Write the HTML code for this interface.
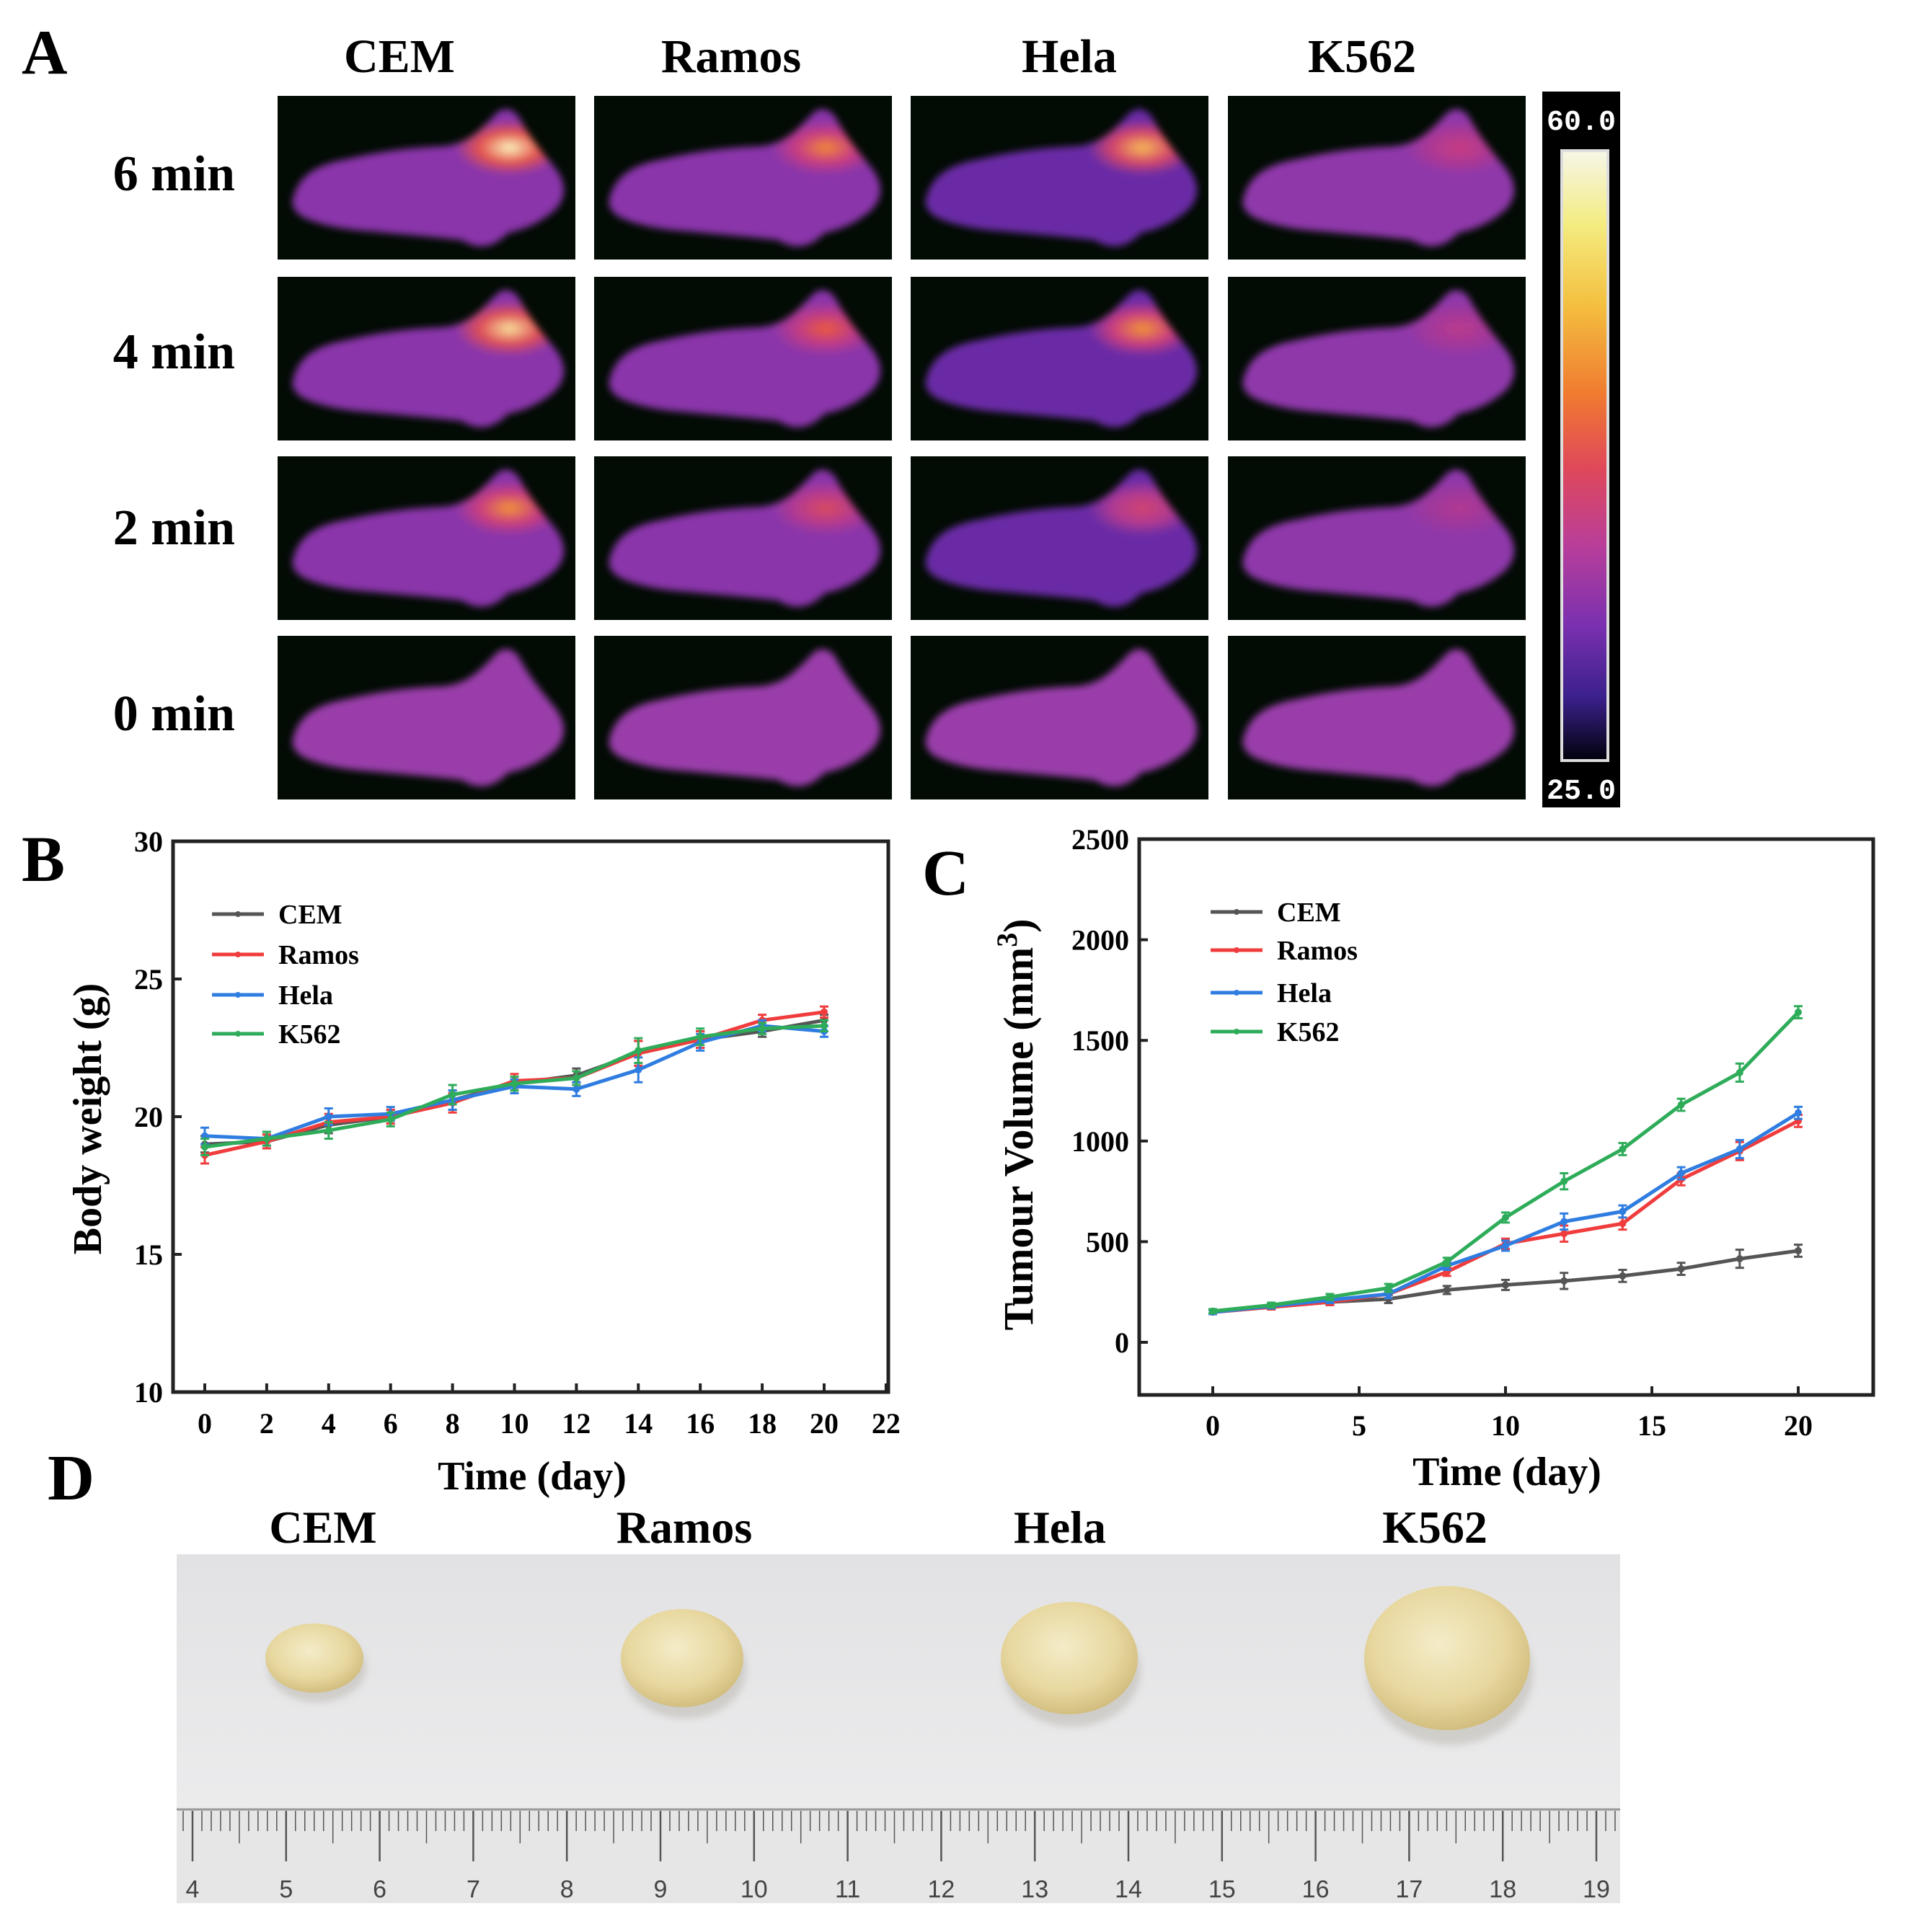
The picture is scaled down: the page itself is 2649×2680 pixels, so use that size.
<!DOCTYPE html>
<html><head><meta charset="utf-8"><style>
html,body{margin:0;padding:0;background:#fff;}
svg{display:block;font-family:"Liberation Serif",serif;font-weight:bold;}
</style></head><body>
<svg id="fig" xmlns="http://www.w3.org/2000/svg" width="2649" height="2680" viewBox="0 0 2649 2680">
<defs>
<linearGradient id="cbar" x1="0" y1="0" x2="0" y2="1">
<stop offset="0" stop-color="#f6f6e6"/><stop offset="0.12" stop-color="#f4ec80"/><stop offset="0.25" stop-color="#f4c040"/><stop offset="0.4" stop-color="#f07a30"/><stop offset="0.52" stop-color="#e0485a"/><stop offset="0.65" stop-color="#b83e9a"/><stop offset="0.78" stop-color="#7a30b0"/><stop offset="0.9" stop-color="#3a208a"/><stop offset="1" stop-color="#02020e"/>
</linearGradient>
<filter id="blur" x="-10%" y="-10%" width="120%" height="120%"><feGaussianBlur stdDeviation="5"/></filter>
<linearGradient id="photo" x1="0" y1="0" x2="0" y2="1"><stop offset="0" stop-color="#e2e2e4"/><stop offset="1" stop-color="#efeff0"/></linearGradient>
<radialGradient id="tum" cx="0.45" cy="0.4" r="0.65"><stop offset="0" stop-color="#f4ecc8"/><stop offset="0.6" stop-color="#e8d8a0"/><stop offset="1" stop-color="#cdb878"/></radialGradient>
</defs>
<g id="panelA">
<text x="30" y="102" font-size="88">A</text>
</g>
<g id="chartB">
<text x="30" y="1222" font-size="90">B</text>
</g>
<g id="chartC">
<text x="1279" y="1241" font-size="90">C</text>
</g>
<g id="panelD">
<text x="66" y="2080" font-size="90">D</text>
</g>
</svg>
<script>
const NS="http://www.w3.org/2000/svg";
function el(tag,attrs,parent,text){const e=document.createElementNS(NS,tag);for(const k in attrs)e.setAttribute(k,attrs[k]);if(text!==undefined)e.textContent=text;parent.appendChild(e);return e;}

/* ---------- Panel A data ---------- */
const cellLines=["CEM","Ramos","Hela","K562"];
const timeRows=["6 min","4 min","2 min","0 min"];
const heat6=[1.0,0.72,0.85,0.4];
const heat4=[0.95,0.6,0.75,0.3];
const heat2=[0.75,0.5,0.45,0.25];
const heat0=[0,0,0,0];
const heatRows=[heat6,heat4,heat2,heat0];
const bodyTone=["#8a36aa","#8a36aa","#6a2ca6","#8f38aa"];

const A=document.getElementById('panelA');
const colX=[385,824,1263,1703], rowY=[133,384,633,882], cw=413, ch=227;
const colCenters=[554,1014,1483,1889], rowCenters=[240,487,731,989];
cellLines.forEach((n,i)=>{const t=el('text',{x:colCenters[i],y:100,'font-size':66,'text-anchor':'middle'},A,n);

});
timeRows.forEach((n,j)=>{const t=el('text',{x:326,y:rowCenters[j]+24,'font-size':70,'text-anchor':'end'},A,n);

});
function heatColor(v){const stops=[[0,[138,54,170]],[0.4,[200,60,130]],[0.6,[236,90,60]],[0.8,[245,170,50]],[1,[252,248,190]]];
for(let i=1;i<stops.length;i++){if(v<=stops[i][0]){const a=stops[i-1],b=stops[i],t=(v-a[0])/(b[0]-a[0]);return 'rgb('+a[1].map((c,k)=>Math.round(c+(b[1][k]-c)*t)).join(',')+')';}}return 'rgb(252,248,190)';}
const mousePath="M22,140 C30,110 55,95 95,88 C130,80 170,72 230,70 C265,66 280,48 300,28 C310,15 325,15 335,30 C345,50 360,70 385,100 C400,120 402,140 385,158 C365,175 345,185 320,190 C300,210 280,215 255,200 C210,195 170,192 130,188 C95,186 60,180 35,168 C22,160 18,150 22,140 Z";
timeRows.forEach((tr,j)=>{cellLines.forEach((cl,i)=>{
 const g=el('g',{transform:'translate('+colX[i]+','+rowY[j]+')'},A);
 
 
 el('rect',{x:0,y:0,width:cw,height:ch,fill:'#020b04'},g);
 const gid='hs'+i+'_'+j, v=heatRows[j][i];
 const rg=el('radialGradient',{id:gid,cx:'0.8',cy:'0.28',r:'0.2'},document.querySelector('defs'));
 el('stop',{offset:'0','stop-color':heatColor(v)},rg);
 el('stop',{offset:'0.55','stop-color':heatColor(v*0.55)},rg);
 el('stop',{offset:'1','stop-color':bodyTone[i]},rg);
 el('path',{d:mousePath,fill:j===3?'#9a3caa':'url(#'+gid+')',filter:'url(#blur)'},g);
});});
const cb=el('g',{},A);


el('rect',{x:2139,y:127,width:108,height:993,fill:'#000'},cb);
el('rect',{x:2164,y:207,width:68,height:850,fill:'#ddd'},cb);
el('rect',{x:2168,y:211,width:60,height:842,fill:'url(#cbar)'},cb);
const t60=el('text',{x:2193,y:180,'font-size':40,fill:'#fff','text-anchor':'middle','font-family':'Liberation Mono, monospace'},cb,'60.0');

const t25=el('text',{x:2193,y:1108,'font-size':40,fill:'#fff','text-anchor':'middle','font-family':'Liberation Mono, monospace'},cb,'25.0');


/* ---------- Chart B data ---------- */
const daysB=[0,2,4,6,8,10,12,14,16,18,20];
const xTicksB=[0,2,4,6,8,10,12,14,16,18,20,22];
const yTicksB=[10,15,20,25,30];
const wCEM=[19.0,19.1,19.7,20.0,20.6,21.2,21.5,22.3,22.8,23.1,23.5];
const wRamos=[18.6,19.1,19.8,20.0,20.5,21.3,21.4,22.3,22.8,23.5,23.8];
const wHela=[19.3,19.2,20.0,20.1,20.6,21.1,21.0,21.7,22.7,23.3,23.1];
const wK562=[18.9,19.2,19.5,19.9,20.8,21.2,21.4,22.4,22.9,23.2,23.3];
const errB=[0.3,0.25,0.3,0.25,0.35,0.25,0.25,0.45,0.3,0.2,0.2];
const seriesNames=["CEM","Ramos","Hela","K562"];
const seriesColors=["#555555","#f03c3c","#2f7de0","#2eac5a"];

/* ---------- Chart C data ---------- */
const daysC=[0,2,4,6,8,10,12,14,16,18,20];
const xTicksC=[0,5,10,15,20];
const yTicksC=[0,500,1000,1500,2000,2500];
const vCEM=[150,175,200,215,260,285,305,330,365,415,455];
const vRamos=[150,175,200,240,350,490,540,590,810,950,1100];
const vHela=[150,180,210,240,380,480,600,650,840,960,1140];
const vK562=[155,185,225,270,400,620,800,960,1180,1340,1640];
const errC=[10,12,15,20,20,25,40,30,30,45,30];

function drawChart(g,cfg){
 const {x0,x1,y0,y1,xs,ys}=cfg;
 const fr=el('rect',{x:x0,y:y0,width:x1-x0,height:y1-y0,fill:'none',stroke:'#222','stroke-width':5},g);
 
 cfg.xTicks.forEach(t=>{const X=xs(t);el('line',{x1:X,y1:y1,x2:X,y2:y1-12,stroke:'#222','stroke-width':4},g);
  const tl=el('text',{x:X,y:cfg.xLabelY,'font-size':40,'text-anchor':'middle'},g,t);
  });
 cfg.yTicks.forEach(t=>{const Y=ys(t);el('line',{x1:x0,y1:Y,x2:x0+12,y2:Y,stroke:'#222','stroke-width':4},g);
  const tl=el('text',{x:x0-14,y:Y+14,'font-size':40,'text-anchor':'end'},g,t);
  });
 cfg.series.forEach((s,k)=>{
  const sg=el('g',{},g);
  
  
  const pts=cfg.xs_d.map((d,i)=>xs(d)+','+ys(s[i])).join(' ');
  el('polyline',{points:pts,fill:'none',stroke:seriesColors[k],'stroke-width':5,'stroke-linejoin':'round'},sg);
  cfg.xs_d.forEach((d,i)=>{const X=xs(d),Yt=ys(s[i]+cfg.err[i]),Yb=ys(s[i]-cfg.err[i]);
   el('line',{x1:X,y1:Yt,x2:X,y2:Yb,stroke:seriesColors[k],'stroke-width':3},sg);
   el('line',{x1:X-6,y1:Yt,x2:X+6,y2:Yt,stroke:seriesColors[k],'stroke-width':3},sg);
   el('line',{x1:X-6,y1:Yb,x2:X+6,y2:Yb,stroke:seriesColors[k],'stroke-width':3},sg);
   const m=el('circle',{cx:X,cy:ys(s[i]),r:5,fill:seriesColors[k]},sg);
   });
 });
 const lg=el('g',{},g);
 
 seriesNames.forEach((n,k)=>{const Y=cfg.legY[k];
  const e=el('g',{},lg);
  
  
  el('line',{x1:cfg.legX,y1:Y,x2:cfg.legX+72,y2:Y,stroke:seriesColors[k],'stroke-width':5},e);
  el('circle',{cx:cfg.legX+36,cy:Y,r:4,fill:seriesColors[k]},e);
  el('text',{x:cfg.legX+92,y:Y+13,'font-size':38},e,n);});
 const xt=el('text',{x:cfg.xTitle[0],y:cfg.xTitle[1],'font-size':56,'text-anchor':'middle'},g,'Time (day)');
 
 const yt=el('text',{x:0,y:0,'font-size':cfg.yTitleSize,'text-anchor':'middle',transform:'translate('+cfg.yTitle[0]+','+cfg.yTitle[1]+') rotate(-90)'},g);
 
 yt.innerHTML=cfg.yTitleHTML;
}
drawChart(document.getElementById('chartB'),{
 x0:240,x1:1232,y0:1167,y1:1931,xs:d=>284+d*42.95,ys:v=>1931-(v-10)*38.2,
 xTicks:xTicksB,yTicks:yTicksB,xLabelY:1988,xs_d:daysB,series:[wCEM,wRamos,wHela,wK562],err:errB,
 legX:294,legY:[1268,1324,1380,1434],xTitle:[738,2066],yTitle:[140,1552],yTitleSize:56,yTitleHTML:'Body weight (g)'});
drawChart(document.getElementById('chartC'),{
 x0:1580,x1:2598,y0:1164,y1:1935,xs:d=>1682+d*40.6,ys:v=>1862-v*0.2792,
 xTicks:xTicksC,yTicks:yTicksC,xLabelY:1991,xs_d:daysC,series:[vCEM,vRamos,vHela,vK562],err:errC,
 legX:1679,legY:[1265,1318,1377,1431],xTitle:[2090,2060],yTitle:[1432,1560],yTitleSize:58,yTitleHTML:'Tumour Volume (mm<tspan dy="-22" font-size="40">3</tspan><tspan dy="22">)</tspan>'});

/* ---------- Panel D ---------- */
const D=document.getElementById('panelD');
const tumX=[436,946,1483,2007], tumRx=[68,85,95,115], tumRy=[48,68,78,100];
const labelX=[448,949,1470,1990];
cellLines.forEach((n,i)=>{const t=el('text',{x:labelX[i],y:2140,'font-size':64,'text-anchor':'middle'},D,n);
 });
const ph=el('rect',{x:245,y:2156,width:2002,height:484,fill:'url(#photo)'},D);

cellLines.forEach((n,i)=>{
 el('ellipse',{cx:tumX[i]+4,cy:2306+tumRy[i]*0.15,rx:tumRx[i],ry:tumRy[i],fill:'#b8b4aa',opacity:0.5,filter:'url(#blur)'},D);
 const e=el('ellipse',{cx:tumX[i],cy:2300,rx:tumRx[i],ry:tumRy[i],fill:'url(#tum)'},D);
 });
const rul=el('g',{},D);

el('rect',{x:245,y:2508,width:2002,height:132,fill:'#e6e6e6'},rul);
el('line',{x1:245,y1:2510,x2:2247,y2:2510,stroke:'#999','stroke-width':3},rul);
for(let mm=-8;mm<=158;mm++){const X=267+mm*12.98;if(X<247||X>2245)continue;
 const L=mm%10===0?70:(mm%5===0?45:28);
 el('line',{x1:X,y1:2512,x2:X,y2:2512+L,stroke:'#555','stroke-width':mm%10===0?2.5:1.5},rul);}
for(let n=4;n<=19;n++){el('text',{x:267+(n-4)*129.8,y:2632,'font-size':34,'text-anchor':'middle','font-weight':'normal','font-family':'Liberation Sans, sans-serif',fill:'#444'},rul,n);}
</script>
</body></html>
